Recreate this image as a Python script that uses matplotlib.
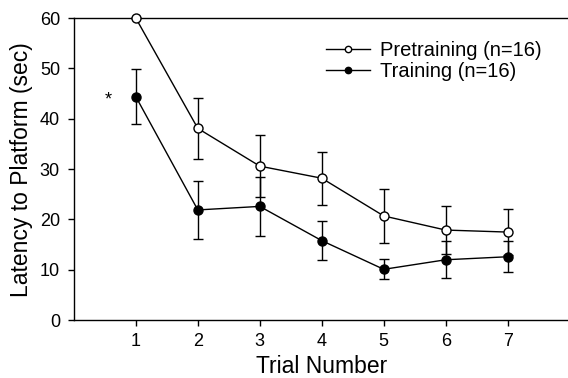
import matplotlib.pyplot as plt

plt.rcParams["font.family"] = ["Liberation Sans", "DejaVu Sans"]

trials = [1, 2, 3, 4, 5, 6, 7]
pretraining = [60.0, 38.1, 30.6, 28.2, 20.7, 17.9, 17.5]
pretraining_err = [0.0, 6.0, 6.2, 5.3, 5.3, 4.7, 4.6]
training = [44.4, 21.9, 22.6, 15.8, 10.1, 12.0, 12.6]
training_err = [5.5, 5.8, 5.8, 3.9, 2.0, 3.7, 3.1]

fig = plt.figure(figsize=(5.68, 3.78), dpi=100)
ax = fig.add_axes([0.130, 0.153, 0.873, 0.799])

ax.errorbar(trials, pretraining, yerr=pretraining_err, color="black", lw=1.0,
            marker="o", ms=6.5, mfc="white", mec="black", mew=1.0,
            capsize=3.8, elinewidth=1.0, capthick=1.0,
            label="Pretraining (n=16)", zorder=3, clip_on=False)
ax.errorbar(trials, training, yerr=training_err, color="black", lw=1.0,
            marker="o", ms=6.5, mfc="black", mec="black",
            capsize=3.8, elinewidth=1.0, capthick=1.0,
            label="Training (n=16)", zorder=3, clip_on=False)

ax.text(0.55, 43.7, "*", ha="center", va="center", fontsize=13)

ax.set_xlim(0, 8)
ax.set_ylim(0, 60)
ax.set_xticks(trials)
ax.set_yticks([0, 10, 20, 30, 40, 50, 60])
ax.tick_params(direction="out", length=4, width=1, labelsize=13)
ax.tick_params(axis="x", pad=5)
ax.tick_params(axis="y", pad=6)
ax.spines["right"].set_visible(False)
for s in ["left", "bottom", "top"]:
    ax.spines[s].set_linewidth(1.0)

ax.set_xlabel("Trial Number", fontsize=16.5, labelpad=4)
ax.set_ylabel("Latency to Platform (sec)", fontsize=16.5, labelpad=5)

handles, labels = ax.get_legend_handles_labels()
handles = [h[0] for h in handles]
ax.legend(handles, labels, loc="upper right", bbox_to_anchor=(0.98, 0.985),
          frameon=False, fontsize=14.5, handlelength=2.2, handletextpad=0.5,
          labelspacing=0.1, markerscale=0.7)

fig.savefig("out.png", dpi=100)
